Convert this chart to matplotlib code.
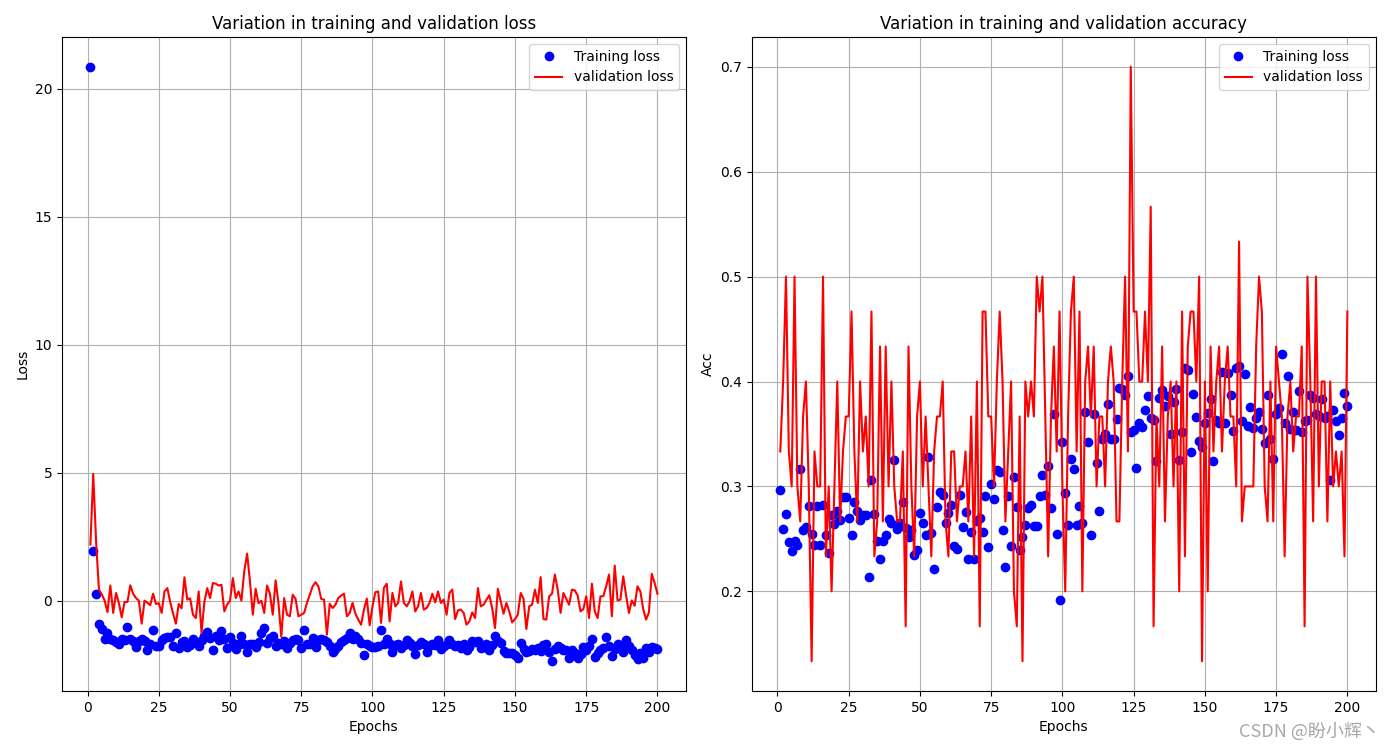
import matplotlib
matplotlib.use("Agg")
import numpy as np
import matplotlib.pyplot as plt

# ---------------- data ----------------
epochs = list(range(1, 201))

train_loss = [
    20.86, 1.95, 0.27,
    -0.9, -1.1, -1.5, -1.26, -1.5, -1.55, -1.6, -1.68, -1.5, -1.52,
    -1.03, -1.5, -1.59, -1.81, -1.58, -1.5, -1.59, -1.91, -1.68, -1.16,
    -1.76, -1.78, -1.52, -1.47, -1.42, -1.42, -1.76, -1.26, -1.85, -1.63,
    -1.58, -1.81, -1.72, -1.5, -1.65, -1.78, -1.52, -1.39, -1.21, -1.47,
    -1.91, -1.39, -1.52, -1.18, -1.5, -1.85, -1.42, -1.65, -1.89, -1.68,
    -1.39, -1.68, -1.99, -1.68, -1.68, -1.81, -1.63, -1.26, -1.07, -1.65,
    -1.46, -1.39, -1.78, -1.65,
    -1.68, -1.59, -1.85, -1.65, -1.52, -1.50, -1.52, -1.85, -1.16, -1.68,
    -1.68, -1.46, -1.81, -1.52, -1.50, -1.52, -1.60, -1.78, -1.99, -1.89,
    -1.76, -1.63, -1.52, -1.46, -1.26, -1.50, -1.39, -1.50, -1.65, -2.11,
    -1.68, -1.76, -1.81, -1.81, -1.76, -1.16, -1.68, -1.50, -1.68, -2.02,
    -1.72, -1.68, -1.85, -1.72, -1.52, -1.65, -1.78, -2.08, -1.72, -1.63,
    -1.68, -1.99, -1.78, -1.68, -1.72, -1.52, -1.89, -1.76, -1.68, -1.52,
    -1.68, -1.78, -1.72, -1.85, -1.68, -1.91,
    -1.81, -1.59, -1.63, -1.59, -1.85, -1.81, -1.68, -1.91, -1.75, -1.39,
    -1.59, -1.65, -1.95, -2.04, -2.04, -2.04, -2.11, -2.24, -1.65, -1.89,
    -2.02, -1.98, -1.89, -1.91, -1.85, -1.98, -1.72, -1.68, -2.0, -2.37,
    -1.89, -1.78, -1.85, -1.91, -1.91, -2.24, -1.94, -2.04, -2.24, -2.07,
    -1.81, -1.91, -1.76, -1.5, -2.2, -2.04, -1.94, -1.85, -1.42, -1.78,
    -2.15, -1.9, -1.68, -1.76, -2.02, -1.52, -1.76, -1.91, -2.11, -2.28,
    -2.04, -2.24, -1.85, -2.0, -1.81, -1.85, -1.89,
]

val_loss = [
    2.19, 4.95, 2.3, 0.43, 0.25, 0.0, -0.45, 0.59, -0.48, 0.3,
    -0.1, -0.65, -0.05, -0.05, 0.6, 0.27, 0.1, 0.0, -0.9, 0.0,
    -0.08, -0.18, 0.27, -0.13, -0.1, -0.48, 0.36, 0.49, -0.05, -0.5,
    -0.9, -0.13, -0.3, 0.91, 0.04, 0.09, -0.55, -0.68, 0.36, -1.26,
    -0.05, 0.49, 0.1, 0.69, 0.66, 0.59, 0.62, -0.42, -0.15, 0.0,
    0.88, 0.1, 0.36, 0.0, 1.15, 1.84, 0.75, -0.55, 0.46, -0.1,
    0.0, -0.48, 0.59,
    0.27, -0.55, 0.79, -0.09, -1.42, 0.1, -0.55, -0.61, 0.23, 0.07,
    -0.61, -0.55, -0.48, -0.09, 0.23, 0.56, 0.72, 0.56, 0.07, 0.04,
    -1.33, -0.12, -0.29, -0.16, 0.1, 0.2, 0.27, -0.61, -0.48, -0.09,
    -0.51, -0.74, -0.94, -0.35, 0.08, -0.96, -0.22, 0.33, 0.36, -0.87,
    0.5, 0.66, -0.81, 0.3, -0.22, -0.09, 0.75, -0.09, -0.22, -0.03,
    0.36, -0.42, -0.22, 0.3, -0.35, -0.29, -0.09, 0.27, -0.07, 0.36,
    -0.09, 0.04, -0.55, 0.3, 0.43, -0.72, -0.38, -0.35,
    -0.48, -0.94, -0.81, -0.46, -0.68, 0.49, -0.22, -0.16, 0.04, 0.21,
    -0.29, -1.07, 0.46, -0.03, -0.51, -0.09, -0.42, -0.85, -0.72, -0.55,
    0.3, 0.07, -1.11, -0.22, -0.16, 0.43, -0.09, 0.92, -0.72, -0.74,
    0.17, 0.27, 1.02, 0.43, -0.48, 0.3, 0.07, -0.16, 0.43, 0.4,
    0.2, -0.42, -0.33, 0.17, -0.68, 0.66, -0.42, -0.68, 0.17, 0.17,
    0.56, 1.02, -0.61, 1.37, 0.01, 0.04, 0.95, 0.2, -0.48, 0.01,
    -0.2, 0.56, 0.36, -0.33, -0.74, -0.46, 1.05, 0.69, 0.27,
]

train_acc = [
    0.297, 0.259, 0.274, 0.247, 0.238, 0.248, 0.244, 0.317, 0.258, 0.261,
    0.281, 0.255, 0.244, 0.281, 0.244, 0.282, 0.254, 0.237, 0.273, 0.264,
    0.277, 0.268, 0.29, 0.29, 0.27, 0.254, 0.285, 0.277, 0.268, 0.273,
    0.273, 0.214, 0.306, 0.274, 0.248, 0.231, 0.248, 0.254, 0.269, 0.265,
    0.325, 0.259, 0.265,
    0.285, 0.26, 0.252, 0.258, 0.235, 0.239, 0.275, 0.265, 0.254, 0.328, 0.256,
    0.221, 0.28, 0.295, 0.292, 0.265, 0.275, 0.282, 0.243, 0.24, 0.292,
    0.261, 0.276, 0.231, 0.257, 0.231, 0.267, 0.27, 0.257, 0.291, 0.242,
    0.302, 0.288, 0.316, 0.314, 0.258, 0.223, 0.291, 0.243, 0.309, 0.28,
    0.239, 0.252, 0.263, 0.279, 0.282, 0.262, 0.262, 0.291, 0.311, 0.292,
    0.319, 0.279, 0.369, 0.255,
    0.192, 0.342, 0.294, 0.263, 0.326, 0.317, 0.263, 0.281, 0.265, 0.371,
    0.342, 0.254, 0.369, 0.322, 0.277, 0.345, 0.35, 0.379, 0.345, 0.345,
    0.364, 0.394, 0.393, 0.387, 0.405, 0.352, 0.354, 0.318, 0.36, 0.357,
    0.373, 0.386, 0.365, 0.363, 0.324, 0.384, 0.392, 0.377, 0.386, 0.35,
    0.38, 0.393, 0.325, 0.352, 0.413, 0.411, 0.333, 0.388, 0.366,
    0.343, 0.338, 0.36, 0.37, 0.383, 0.324, 0.363, 0.36, 0.409, 0.36, 0.408,
    0.387, 0.353, 0.413, 0.415, 0.362, 0.407, 0.358, 0.376, 0.356, 0.365,
    0.371, 0.355, 0.341, 0.387, 0.345, 0.326, 0.369, 0.375, 0.426, 0.36, 0.405,
    0.355, 0.371, 0.354, 0.391, 0.352, 0.362, 0.363, 0.387, 0.384, 0.369,
    0.367, 0.383, 0.365, 0.367, 0.306, 0.373, 0.362, 0.349, 0.365, 0.389,
    0.377,
]

# validation accuracy comes in steps of 1/30 (30 validation samples)
val_acc_hits = [
    10, 12, 15, 10, 9, 15, 9, 8, 11, 12, 9, 4, 10, 9, 9, 15, 7, 9, 6, 9, 12,
    8, 10, 11, 11, 14, 10, 8, 12, 10, 11, 9, 14, 7, 8, 13, 8, 13, 9, 12, 9,
    8, 8, 10, 5, 13, 9, 7, 11, 12,
    9, 11, 9, 7, 10, 11, 11, 12, 8, 7, 10, 10, 8, 9, 9, 10, 8, 11, 7, 12,
    5, 14, 14, 11, 11, 9, 12, 14, 12, 8, 10, 12, 6, 5, 11, 4, 12, 11, 12, 11,
    15, 14, 15, 11, 7, 11, 13, 10, 14,
    9, 6, 11, 14, 15, 10, 14, 6, 12, 13, 11, 13, 9, 11, 11, 9, 12, 13, 12, 8,
    8, 12, 15, 10, 21, 14, 14, 12, 12, 14, 12, 17, 5, 11, 9, 13, 8, 11, 12, 9,
    12, 6, 14, 7, 13, 14, 14, 12, 15,
    4, 12, 6, 13, 10, 12, 13, 10, 12, 13, 11, 11, 9, 16, 8, 9, 9, 9, 9, 13,
    15, 14, 9, 8, 12, 8, 13, 12, 11, 7, 11, 12, 10, 11, 11, 13, 5, 15, 12,
    8, 15, 9, 12, 12, 8, 12, 9, 10, 9, 10, 7, 14,
]
val_samples = 30
val_acc = np.array(val_acc_hits) / val_samples

# ---------------- plot ----------------
fig, (ax1, ax2) = plt.subplots(1, 2, figsize=(13.91, 7.49), dpi=100)
plt.subplots_adjust(left=0.0446, right=0.989, bottom=0.0774, top=0.9506, wspace=0.106)

ax1.plot(epochs, train_loss, 'bo', label='Training loss')
ax1.plot(epochs, val_loss, 'r', label='validation loss')
ax1.set_title('Variation in training and validation loss')
ax1.set_xlabel('Epochs')
ax1.set_ylabel('Loss')
ax1.legend(loc='upper right')
ax1.grid(True)

ax2.plot(epochs, train_acc, 'bo', label='Training loss')
ax2.plot(epochs, val_acc, 'r', label='validation loss')
ax2.set_title('Variation in training and validation accuracy')
ax2.set_xlabel('Epochs')
ax2.set_ylabel('Acc')
ax2.legend(loc='upper right')
ax2.grid(True)

# CSDN watermark
fig.text(0.992, 0.024, 'CSDN @盼小辉丶', ha='right', va='center', fontsize=13,
         color='#a8a8a8', family=['Noto Sans CJK SC', 'DejaVu Sans'])

plt.savefig('out.png')
plt.close()
